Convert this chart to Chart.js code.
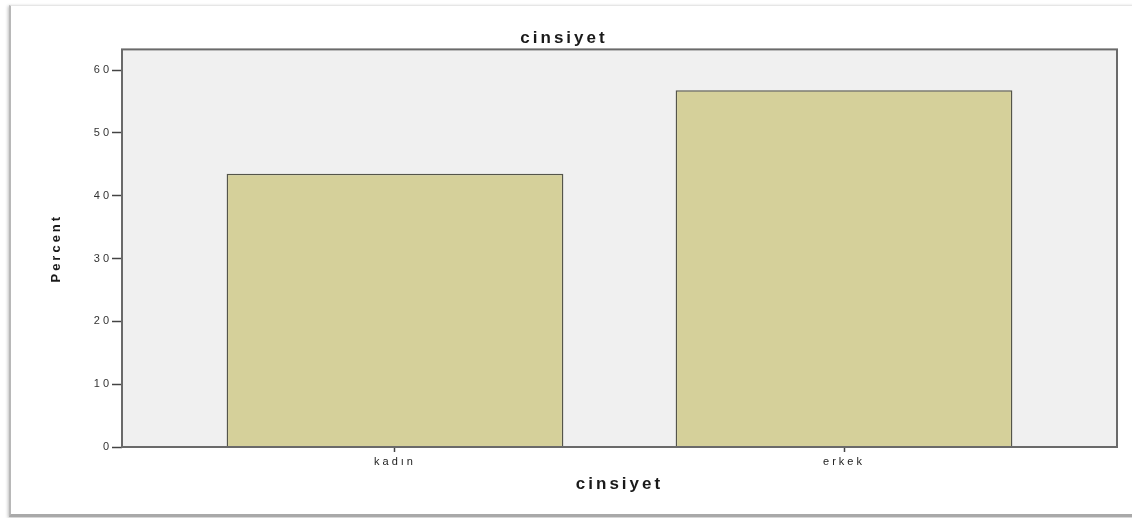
<!DOCTYPE html>
<html>
<head>
<meta charset="utf-8">
<script src="https://cdn.jsdelivr.net/npm/chart.js@4/dist/chart.umd.min.js"></script>
<style>
  html, body { margin: 0; padding: 0; background: #fff; overflow: hidden; }
  .frame {
    position: absolute; left: 9px; top: 5px;
    width: 1140px; height: 508px;
    border-left: 2px solid #b8b8b8;
    border-top: 1px solid #e6e6e6;
    border-bottom: 3px solid #a9a9a9;
    box-shadow: -1px 1px 3px rgba(0,0,0,0.25);
    background: #fff;
  }
  .box { position: absolute; left: 0; top: 0; width: 1121px; height: 508px; }
</style>
</head>
<body>
<div class="frame"><div class="box"><canvas id="c"></canvas></div></div>
<script>
  // cinsiyet / Percent
  const categories = ["kadın", "erkek"];
  const percents = [43.5, 56.8];
  const yTicks = [0, 10, 20, 30, 40, 50, 60];

  const plotBg = {
    id: "plotBg",
    beforeDraw(chart) {
      const { ctx, chartArea: a } = chart;
      ctx.letterSpacing = "3px";
      ctx.save();
      ctx.fillStyle = "#f0f0f0";
      ctx.fillRect(a.left, a.top, a.right - a.left, a.bottom - a.top);
      ctx.restore();
    },
    afterDatasetsDraw(chart) {
      const { ctx, chartArea: a } = chart;
      ctx.save();
      ctx.strokeStyle = "#6a6a6a";
      ctx.lineWidth = 2;
      ctx.strokeRect(a.left, a.top, a.right - a.left, a.bottom - a.top);
      ctx.restore();
    }
  };

  new Chart(document.getElementById("c"), {
    type: "bar",
    data: {
      datasets: [{
        label: "Percent",
        data: percents.map((v, i) => ({ x: i + 1, y: v })),
        backgroundColor: "#d5d09a",
        borderColor: "#55554a",
        borderWidth: 1.5,
        barPercentage: 0.75,
        categoryPercentage: 1
      }]
    },
    options: {
      responsive: true,
      maintainAspectRatio: false,
      animation: false,
      layout: { padding: { left: 0, right: 15, top: 0, bottom: 15 } },
      scales: {
        x: {
          type: "linear",
          offset: false,
          min: 0.392,
          max: 2.608,
          afterBuildTicks: s => { s.ticks = categories.map((_, i) => ({ value: i + 1 })); },
          afterFit: s => { s.height = 52; },
          grid: { offset: false, drawOnChartArea: false, tickLength: 5, tickColor: "#444", tickWidth: 1.5 },
          border: { display: false },
          ticks: {
            padding: 3,
            color: "#222",
            font: { family: "Liberation Sans", size: 11 },
            callback: v => categories[v - 1]
          },
          title: {
            display: true, text: "cinsiyet", color: "#1a1a1a",
            padding: { top: 0, bottom: 4 },
            font: { family: "Liberation Sans", size: 17, weight: "bold" }
          }
        },
        y: {
          min: 0,
          max: 63.3,
          afterBuildTicks: s => { s.ticks = yTicks.map(v => ({ value: v })); },
          afterFit: s => { s.width = 111; },
          grid: { drawOnChartArea: false, tickLength: 10, tickColor: "#444", tickWidth: 1.5 },
          border: { display: false },
          ticks: {
            padding: 0,
            color: "#333",
            font: { family: "Liberation Sans", size: 11 }
          },
          title: {
            display: true, text: "Percent", color: "#1a1a1a",
            padding: { top: 38, bottom: 0 },
            font: { family: "Liberation Sans", size: 13, weight: "bold" }
          }
        }
      },
      plugins: {
        legend: { display: false },
        tooltip: { enabled: false },
        title: {
          display: true, text: "cinsiyet", color: "#1a1a1a",
          padding: { top: 22, bottom: 1 },
          font: { family: "Liberation Sans", size: 17, weight: "bold" }
        }
      }
    },
    plugins: [plotBg]
  });
</script>
</body>
</html>
